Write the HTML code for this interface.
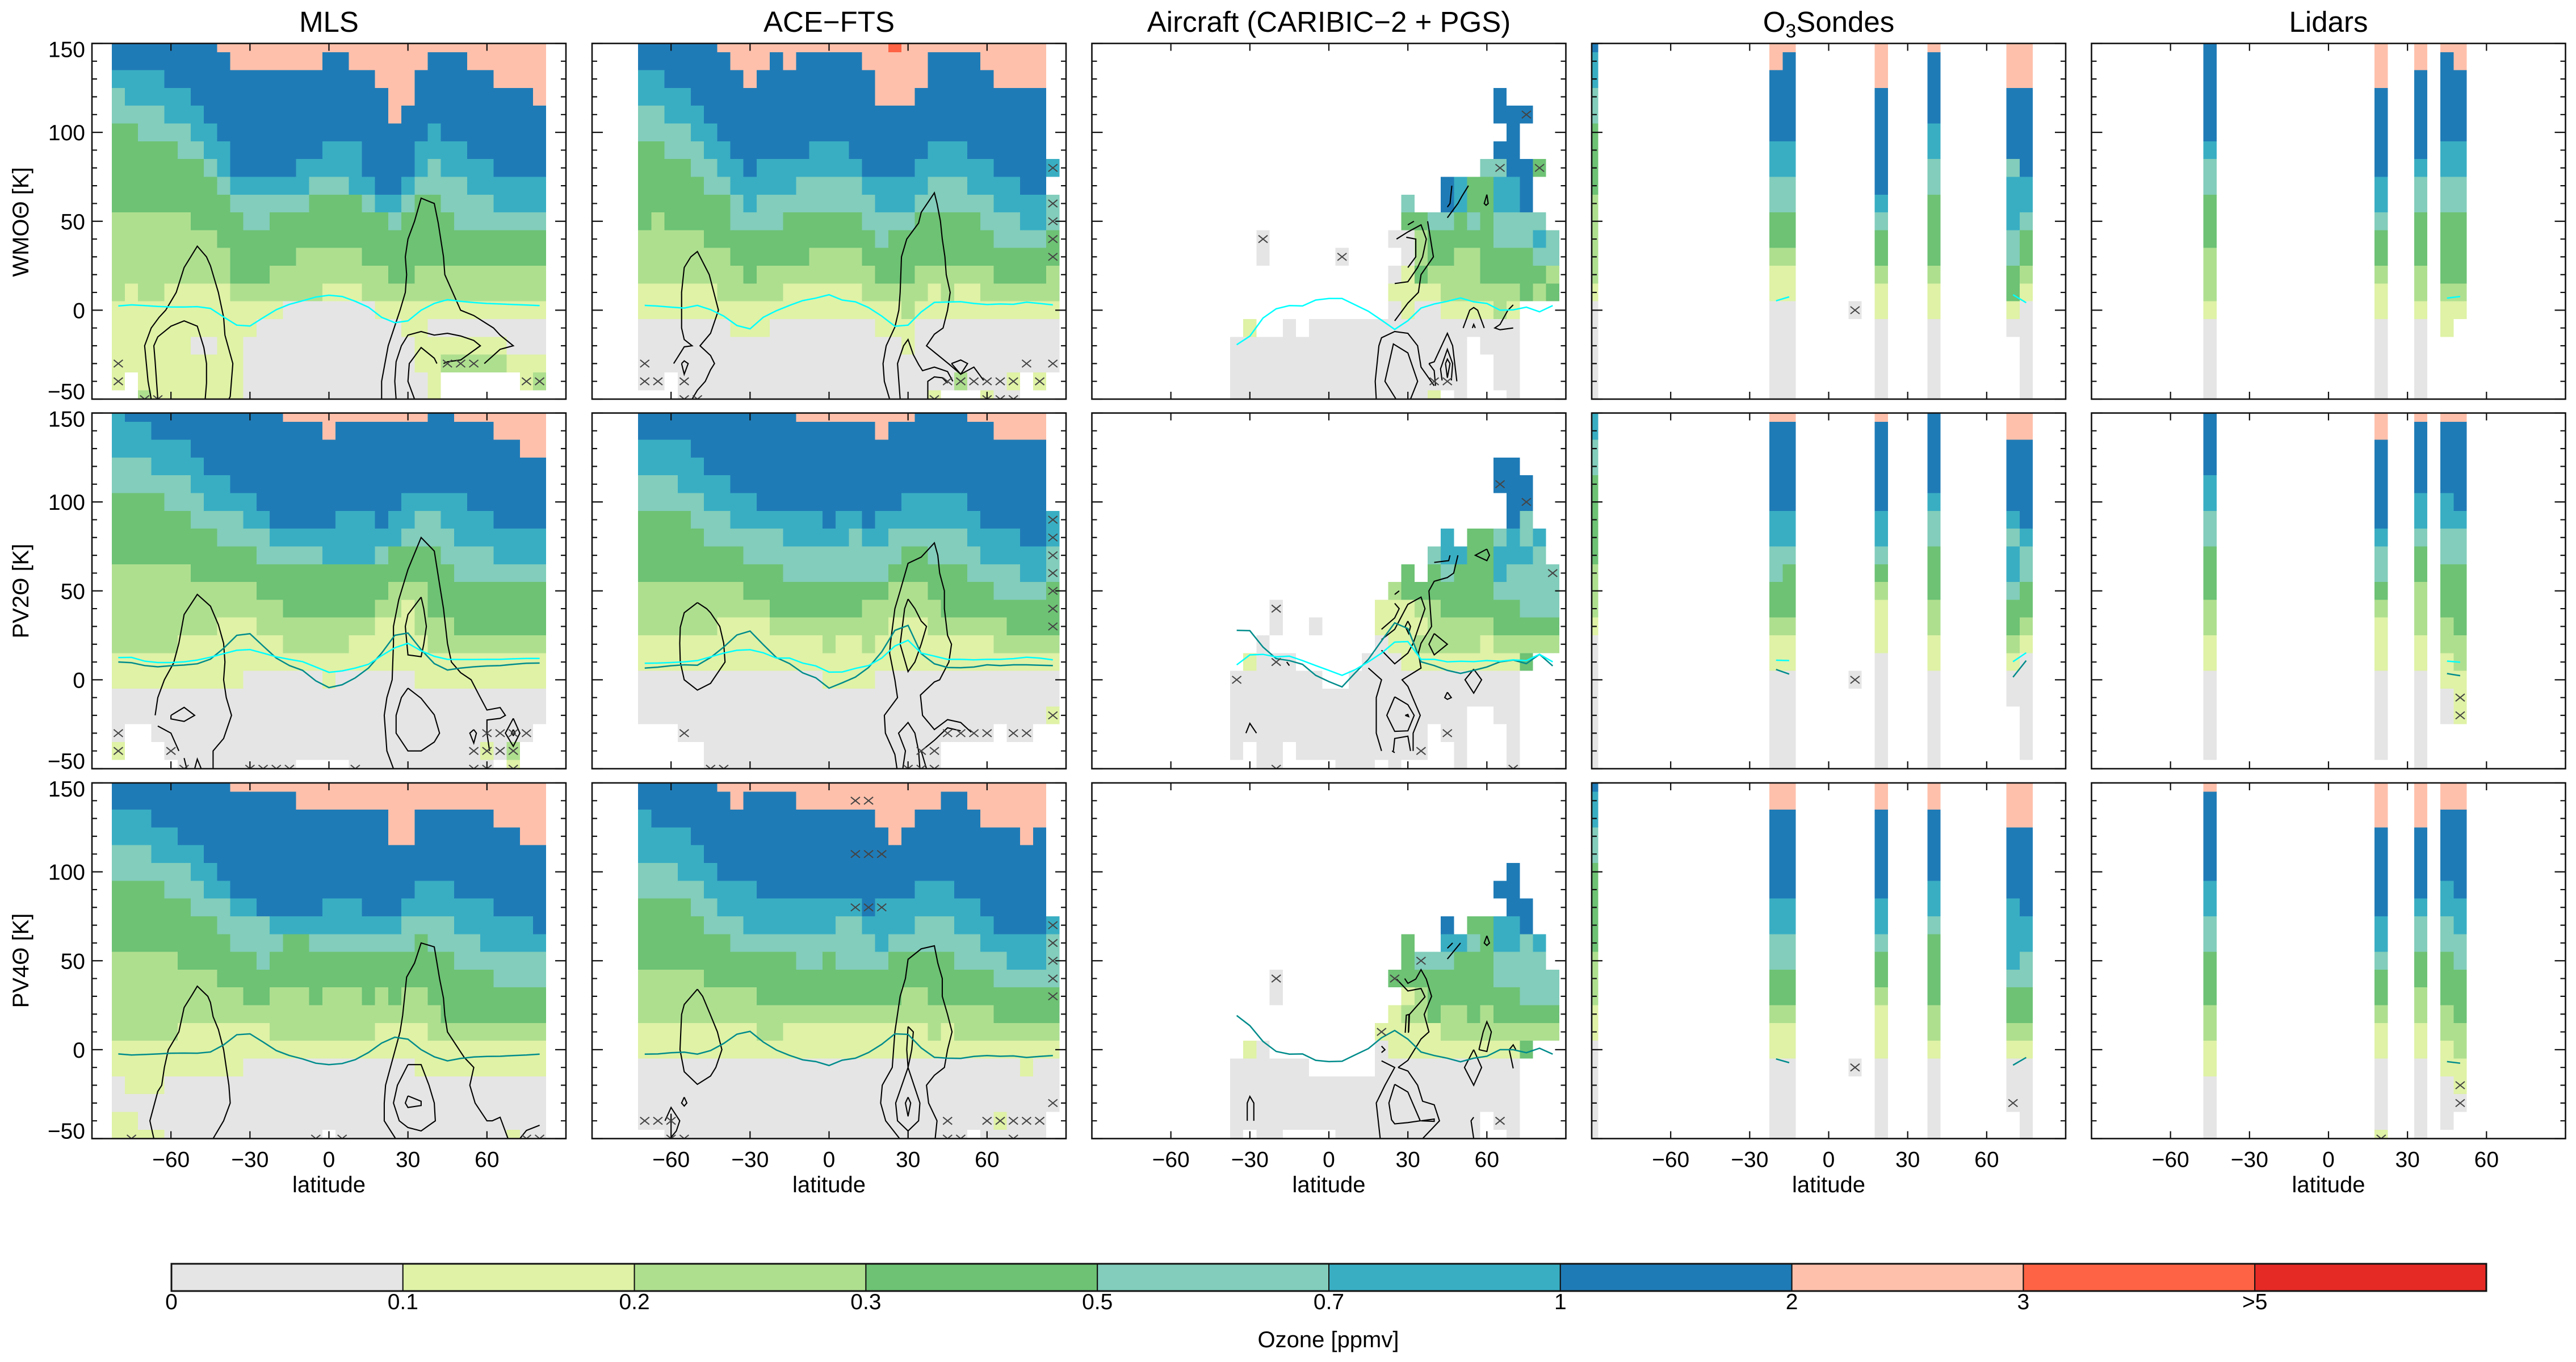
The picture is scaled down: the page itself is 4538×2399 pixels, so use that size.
<!DOCTYPE html>
<html lang="en">
<head>
<meta charset="utf-8">
<title>Ozone climatology comparison</title>
<style>
html,body{margin:0;padding:0;background:#fff;width:4538px;height:2399px;overflow:hidden}
svg{display:block}
text{font-family:"Liberation Sans",sans-serif;fill:#000}
</style>
</head>
<body>
<svg id="figure" xmlns="http://www.w3.org/2000/svg" width="4538" height="2399" viewBox="0 0 4538 2399">
<rect x="0" y="0" width="4538" height="2399" fill="#fff"/>
<g id="plots"></g>
<g id="colorbar"></g>
<g font-size="51" text-anchor="middle">
<text x="579.5" y="56">MLS</text>
<text x="1460.5" y="56">ACE−FTS</text>
<text x="2341" y="56">Aircraft (CARIBIC−2 + PGS)</text>
<text x="3221.5" y="56">O<tspan font-size="34" dy="10">3</tspan><tspan dy="-10">Sondes</tspan></text>
<text x="4102" y="56">Lidars</text>
</g>
<g font-size="40" text-anchor="middle">
<text transform="translate(50,391) rotate(-90)">WMOΘ [K]</text>
<text transform="translate(50,1041) rotate(-90)">PV2Θ [K]</text>
<text transform="translate(50,1692) rotate(-90)">PV4Θ [K]</text>
</g>
<g font-size="40" text-anchor="middle">
<text x="579.5" y="2100">latitude</text>
<text x="1460.5" y="2100">latitude</text>
<text x="2341" y="2100">latitude</text>
<text x="3221.5" y="2100">latitude</text>
<text x="4102" y="2100">latitude</text>
</g>
<text x="2340" y="2373" font-size="40" text-anchor="middle">Ozone [ppmv]</text>
</svg>
<script>
// Shared axis values
const levelColors = ["#e5e5e5","#dff2a6","#aedf8f","#6dc274","#82cdbb","#39aec3","#1f7bb6","#fec0ab","#fd6344","#e52a25"];
const colorbarLabels = ["0","0.1","0.2","0.3","0.5","0.7","1","2","3",">5"];
const xTicks = [-60,-30,0,30,60];
const yMajorTicks = [150,100,50,0,-50];
const yMinorTicks = [140,130,120,110,90,80,70,60,40,30,20,10,-10,-20,-30,-40];

// Heatmap levels, run-length pairs [level,count,...]; each row is one theta bin from 150 K down to -50 K; -1 = no data
const mlsWmoRows = [
[6,8,7,25],[6,9,7,7,6,2,7,6,6,3,7,6],[5,4,6,16,7,3,6,6,7,4],[4,1,5,5,6,15,7,2,6,9,7,1],[4,4,5,3,6,14,7,1,6,11],
[3,2,4,4,5,2,6,16,5,1,6,8],[3,5,4,2,5,2,6,7,5,3,6,4,5,4,6,6],[3,7,4,1,5,1,6,5,5,5,6,4,5,1,4,1,5,4,6,4],
[3,8,4,1,5,6,4,3,5,2,6,2,5,1,4,4,5,6],[3,9,4,6,3,4,4,1,5,2,4,1,3,2,4,4,5,4],[2,6,3,4,4,2,3,9,4,1,3,4,4,7],
[2,8,3,25],[2,9,3,5,2,5,3,14],[2,9,3,3,2,9,3,2,2,10],[2,1,1,1,2,2,1,5,2,7,1,3,2,14],[1,13,0,7,1,13],
[1,11,0,11,1,2,0,9],[1,6,0,2,1,2,0,13,1,7,0,3],[1,10,0,13,1,2,2,5,1,3],[1,1,-1,1,1,8,0,14,1,1,-1,6,1,1,2,1],[-1,2,2,1,1,7,0,14,1,1]];
const acePlainWmoRows = [
[6,6,7,13,8,1,7,11],[6,7,7,3,6,1,7,1,6,5,7,5,6,4,7,5],[5,2,6,6,7,1,6,9,7,4,6,5,7,4],[5,4,6,14,7,3,6,10],[4,2,5,3,6,26],
[4,4,5,2,6,25],[3,2,4,3,5,2,6,6,5,3,6,6,5,3,6,6],[3,4,4,2,5,2,6,1,5,8,6,4,5,6,6,4,5,1],[3,5,4,2,5,5,4,5,5,5,4,3,5,4,6,2],
[3,7,4,1,5,1,4,9,5,3,4,6,5,4,4,1],[3,1,2,1,3,5,4,4,3,6,4,4,3,5,4,3,5,2,4,1],[2,5,3,13,4,1,3,8,4,4,3,1],[2,7,3,6,2,4,3,15],
[2,8,3,1,2,9,3,3,2,6,3,4,2,1],[1,6,2,5,1,6,2,5,1,1,2,1,1,2,2,6],[1,20,2,1,1,11],[0,7,1,3,0,8,1,3,0,11],[0,20,1,1,0,11],[0,32],
[0,2,-1,1,0,21,2,1,0,3,1,1,-1,1,1,1],[-1,3,0,19,1,1,-1,3,1,1,0,2]];
const aircraftWmoRows = [
[],[],[],[-1,20,6,1],[-1,20,6,3],[-1,21,6,1],[-1,20,6,2],[-1,19,4,2,6,2,3,1],[-1,16,6,1,5,1,3,2,5,2,6,1],
[-1,13,4,1,-1,2,6,1,5,1,3,2,5,2,6,1],[-1,13,3,2,4,2,3,1,4,1,3,1,4,4],[-1,2,0,1,-1,9,0,2,2,1,3,5,4,3,5,1,4,1],
[-1,2,0,1,-1,5,0,1,-1,4,0,1,2,1,3,2,2,2,3,4,4,2],[-1,12,0,1,1,1,3,1,2,4,3,5,2,1],[-1,12,1,4,2,6,3,1,2,1,3,1],
[-1,12,0,1,1,1,0,2,1,4,2,1,1,1],[-1,1,1,1,-1,2,0,1,-1,1,0,16],[0,18,-1,1,0,3],[0,18,-1,2,0,2],[0,18,-1,2,0,2],[0,15,1,1,-1,1,0,1,-1,3,0,1]];
const mlsPv2Rows = [
[5,1,6,12,7,11,6,2,7,7],[5,3,6,13,7,1,6,12,7,4],[5,6,6,25,7,2],[4,3,5,4,6,26],[4,6,5,3,6,24],[3,4,4,3,5,4,6,11,5,5,6,6],
[3,6,4,4,5,2,6,5,5,3,6,1,5,2,4,2,5,4,6,4],[3,8,4,4,5,10,4,4,5,7],[3,11,4,5,5,4,4,1,3,4,4,4,5,4],[2,6,3,20,4,7],
[2,11,3,10,2,3,3,9],[2,13,3,7,2,2,1,1,2,1,3,9],[2,8,1,3,2,9,1,3,2,3,3,7],[2,5,1,8,2,5,1,6,2,9],[1,33],[1,10,0,6,1,1,0,6,1,10],
[0,33],[0,33],[0,1,-1,2,0,29],[1,1,-1,3,0,24,1,1,0,1,2,1],[-1,5,0,9,-1,4,0,11,-1,1,1,1]];
const acePv2Rows = [
[6,12,7,9,6,4,7,6],[6,18,7,1,6,8,7,4],[5,4,6,27],[5,5,6,26],[4,3,5,4,6,24],[4,5,5,4,6,11,5,5,6,6],
[3,4,4,3,5,7,6,1,5,2,6,1,5,8,6,5,5,1],[3,5,4,6,5,5,4,1,5,2,4,6,5,4,6,2,5,1],[3,8,4,12,3,2,4,4,5,5,4,1],[3,11,4,8,3,6,4,4,5,2,4,1],
[2,8,3,11,2,3,3,5,4,4,3,1],[2,10,3,7,2,6,3,9],[2,6,1,4,2,9,1,3,2,6,3,4],[1,14,2,1,1,2,2,1,1,9,2,5],[1,32],[0,14,1,4,0,14],
[0,32],[0,31,1,1],[-1,3,0,24,-1,1,0,2],[-1,5,0,18],[-1,5,0,18]];
const aircraftPv2Rows = [
[],[],[],[-1,20,6,2],[-1,20,6,3],[-1,21,6,2],[-1,21,6,1,4,1],[-1,16,5,1,-1,1,3,2,4,1,5,1,4,1,5,1],[-1,15,4,1,5,2,3,2,5,3,4,1],
[-1,13,3,1,-1,1,3,1,4,1,3,3,5,1,4,4],[-1,12,2,1,3,7,4,5],[-1,3,0,1,-1,7,1,3,2,2,3,6,4,3],[-1,3,0,1,-1,2,0,1,-1,4,1,4,2,5,3,5],
[-1,2,0,1,-1,8,0,1,1,2,2,5,1,1,2,5],[-1,1,1,1,0,3,-1,5,0,3,1,9,3,1],[0,7,-1,2,0,13],[0,22],[0,18,-1,2,0,2],
[0,15,-1,1,0,2,-1,3,0,1],[0,1,-1,1,0,2,-1,1,0,10,-1,2,0,1,-1,3,0,1],[-1,2,0,2,-1,4,0,3,-1,1,0,1,-1,4,0,1,-1,3,0,1]];
const mlsPv4Rows = [
[6,9,7,24],[6,14,7,19],[5,3,6,18,7,2,6,6,7,4],[5,5,6,16,7,2,6,8,7,2],[4,3,5,4,6,26],[4,6,5,2,6,25],[3,4,4,3,5,2,6,14,5,3,6,7],
[3,6,4,3,5,2,6,5,5,3,6,3,5,7,6,4],[3,8,4,4,5,10,4,4,5,6,6,1],[3,9,4,4,3,2,4,8,3,1,4,4,5,5],[2,5,3,6,4,1,3,14,4,7],[2,8,3,21,4,4],
[2,10,3,2,2,3,3,1,2,3,3,1,2,1,3,1,2,2,3,9],[2,25,3,8],[2,5,1,7,2,8,1,4,2,9],[1,33],[1,10,0,13,1,10],[0,1,1,3,0,29],[0,33],[1,2,0,31],[1,4,0,12,-1,1,0,13,1,1,0,2]];
const acePv4Rows = [
[6,6,7,25],[6,7,7,1,6,4,7,11,6,2,7,6],[5,1,6,17,7,3,6,5,7,5],[5,4,6,15,7,1,6,9,7,1,6,1],[5,5,6,26],[4,3,5,3,6,25],[4,5,5,4,6,12,5,3,6,7],
[3,4,4,2,5,11,6,1,5,8,6,5],[3,5,4,3,5,7,4,2,5,4,4,3,5,3,6,4,5,1],[3,7,4,11,5,1,4,7,5,5,4,1],[3,12,4,2,3,1,4,4,3,5,4,4,5,3,4,1],
[2,5,3,22,4,5],[2,9,3,11,2,2,3,10],[2,27,3,5],[1,9,2,2,1,11,2,1,1,1,2,8],[1,32],[0,29,1,1,0,2],[0,32],[0,32],[0,27,1,1,0,3],[-1,2,0,23,-1,1,0,5]];
const aircraftPv4Rows = [
[],[],[],[],[],[-1,21,6,1],[-1,20,6,2],[-1,21,6,2],[-1,16,6,1,-1,1,3,2,5,2,6,1],[-1,13,3,1,-1,2,5,2,4,1,3,1,5,2,4,1,5,1],
[-1,13,3,1,4,3,3,3,4,4],[-1,3,0,1,-1,8,3,8,4,5],[-1,3,0,1,-1,9,1,1,2,1,3,7,4,3],[-1,12,1,1,2,2,3,1,2,2,3,1,2,1,3,5],[-1,11,1,5,2,9],
[-1,1,1,1,0,1,-1,8,0,1,1,10,3,1],[0,6,-1,5,0,11],[0,22],[0,22],[0,19,-1,1,0,2],[0,1,-1,1,0,2,-1,4,0,11,-1,2,0,1]];

// Sparse station columns: [latitude, run-length levels from 150 K downward]
const sondeWmoCols = [[-90,[6,1,5,2,4,2,3,4,2,5,1,1,0,6]],[-20,[7,2,6,4,5,2,4,2,3,2,2,1,1,2,0,6]],[-15,[7,1,6,5,5,2,4,2,3,2,2,1,1,2,0,6]],[10,[-1,15,0,1]],
[20,[7,3,6,6,5,1,4,1,3,2,2,1,1,2,0,5]],[40,[7,1,6,4,5,2,4,2,3,4,2,1,1,2,0,5]],[70,[7,3,6,4,4,1,5,3,4,2,3,2,1,1,0,1]],[75,[7,3,6,5,5,2,4,1,3,2,2,1,1,1,0,6]]];
const lidarWmoCols = [[-45,[6,6,5,1,4,2,3,3,2,3,1,1,0,5]],[20,[7,3,6,5,5,2,4,1,3,2,2,1,1,2,0,5]],[35,[7,2,6,5,5,1,4,2,3,3,2,2,1,1,0,5]],
[45,[7,1,6,5,5,2,4,2,3,4,2,1,1,2]],[50,[7,2,6,4,5,2,4,2,3,4,2,1,1,1]]];
const sondePv2Cols = [[-90,[5,2,4,2,3,5,2,3,1,1,0,8]],[-20,[7,1,6,5,5,2,4,2,3,2,2,1,1,2,0,6]],[-15,[7,1,6,5,5,2,4,1,3,3,2,1,1,2,0,6]],[10,[-1,15,0,1]],
[20,[7,1,6,5,5,2,4,1,3,1,2,1,1,3,0,7]],[40,[6,5,5,1,4,2,3,3,2,2,1,2,0,6]],[70,[7,2,6,4,5,1,4,1,5,2,4,1,3,2,2,1,1,1,0,2]],[75,[7,2,6,5,5,1,4,2,3,2,2,1,1,1,0,6]]];
const lidarPv2Cols = [[-45,[6,4,5,2,4,2,3,3,2,2,1,2,0,5]],[20,[7,2,6,5,5,1,4,2,3,1,2,1,1,3,0,5]],[35,[7,1,6,4,5,2,4,1,3,2,2,3,1,2,0,6]],
[45,[7,1,6,4,5,2,4,2,3,3,2,2,1,2,0,2]],[50,[7,1,6,5,5,1,4,2,3,4,2,2,1,3]]];
const sondePv4Cols = [[-90,[6,1,5,2,4,2,3,5,2,3,1,2,0,6]],[-20,[7,2,6,5,5,2,4,2,3,2,2,1,1,2,0,5]],[-15,[7,2,6,5,5,2,4,2,3,2,2,1,1,2,0,5]],[10,[-1,16,0,1]],
[20,[7,2,6,5,5,2,4,1,3,2,2,1,1,3,0,5]],[40,[7,2,6,4,5,2,4,1,3,4,2,2,1,1,0,5]],[70,[7,3,6,4,5,4,4,1,3,2,2,1,1,1,0,3]],[75,[7,3,6,5,5,2,4,2,3,2,2,1,1,1,0,5]]];
const lidarPv4Cols = [[-45,[7,1,6,5,5,2,4,2,3,3,2,2,1,2,0,4]],[20,[7,3,6,5,5,2,4,1,3,2,2,1,1,2,0,4,1,1]],[35,[7,3,6,4,5,1,4,2,3,2,2,2,1,2,0,5]],
[45,[7,2,6,4,5,2,4,2,3,3,2,2,1,2,0,3]],[50,[7,2,6,5,5,2,4,2,3,3,2,2,1,2,0,1]]];

// Flagged cells: flat [lat,theta,...]
const mlsWmoCross = [-80,-30,-80,-40,-70,-50,-65,-50,45,-30,50,-30,55,-30,75,-40,80,-40];
const aceWmoCross = [-70,-30,75,-30,85,-30,-70,-40,-65,-40,-55,-40,45,-40,50,-40,55,-40,60,-40,65,-40,70,-40,80,-40,-55,-50,-50,-50,40,-50,60,-50,65,-50,70,-50,85,80,85,60,85,50,85,40,85,30];
const aircraftWmoCross = [-25,40,5,30,65,80,80,80,75,110,40,-40,45,-40];
const mlsPv2Cross = [-80,-30,60,-30,65,-30,70,-30,75,-30,-80,-40,-60,-40,55,-40,60,-40,65,-40,70,-40,-55,-50,-30,-50,-25,-50,-20,-50,-15,-50,10,-50,55,-50,60,-50,70,-50];
const acePv2Cross = [85,90,85,80,85,70,85,60,85,50,85,40,85,30,85,-20,-55,-30,45,-30,50,-30,55,-30,60,-30,70,-30,75,-30,35,-40,40,-40,-45,-50,-40,-50,30,-50,35,-50,40,-50];
const aircraftPv2Cross = [-20,40,-20,10,-35,0,65,110,75,100,85,60,45,-30,35,-40,-20,-50,70,-50];
const mlsPv4Cross = [-75,-50,-5,-50,5,-50,75,-50,80,-50];
const acePv4Cross = [10,140,15,140,10,110,15,110,20,110,10,80,15,80,20,80,85,70,85,60,85,50,85,40,85,30,85,-30,-70,-40,-65,-40,-60,-40,45,-40,60,-40,65,-40,70,-40,75,-40,80,-40,-60,-50,-55,-50,45,-50,50,-50,70,-50];
const aircraftPv4Cross = [-20,40,35,50,25,40,20,10,65,-40];
const sondeWmoCross = [10,0];
const lidarWmoCross = [];
const sondePv2Cross = [10,0];
const lidarPv2Cross = [50,-10,50,-20];
const sondePv4Cross = [10,-10,70,-30];
const lidarPv4Cross = [50,-20,50,-30,20,-50];

// Contour polylines: each flat [lat,theta,...]
const mlsWmoContours = [
[-67.5,-50,-68.7,-40,-70,-20,-67.5,-10,-64.5,-4,-62,0,-58,10,-55,24,-52.5,30,-50,36,-46.5,30,-45,25,-42,10,-40,-4,-39.5,-14,-36.5,-30,-37.5,-48.5,-38,-50],
[-65,-50,-66,-29,-66.5,-20,-65,-15,-60,-9,-55,-6,-50,-9,-47.5,-21,-46.5,-30,-46.5,-41,-47,-50],
[20,-50,20,-40,22.5,-20,27,0,29,10,29.5,20,29,30,30,40,32.5,50,35,63,40,60,41.5,49,43.5,30,44,20,47,10,50,0,55,-3,62.5,-10,65,-14,70,-20,65,-22,59,-30],
[25.5,-50,25,-40,25.5,-29,27.5,-20,30,-14,35,-12,40,-14,45,-13,50,-14.5,55,-17,57.5,-20,50,-28,45,-29,43.5,-30],
[32.5,-50,30,-40,30.5,-30,35,-21,40,-27,41,-30]];
const aceWmoContours = [
[-59,-30,-55,-20.6,-52,-20,-55,-16.5,-56,-10,-56,10,-55,24,-52.5,30,-50,33,-45.5,20,-42,0,-45,-13,-49,-20,-45,-25.5,-43.5,-30,-45,-33.5,-47,-40,-50,-45,-52,-50],
[-56,-30,-55,-28.5,-53.5,-30,-55,-36,-56,-30],
[23,-50,21,-40,20.5,-30,21.7,-20,25,-9.5,26.5,0,27,10,27.5,30,29.5,40,34,49,35,55,40,66,41,60,42.3,50,43,40,44,30,44.5,20,46,10,45,0,43.3,-10,40,-13.5,37,-20,45.7,-30.5,50,-36,55,-32,58.7,-39.5],
[27,-50,26,-30,28.3,-20,30,-16.5,32,-25,34,-30.5,35.5,-34,40,-32,45,-34.5,47,-40],
[37.5,-50,37.5,-40,40,-37.5,43,-38,45,-41],
[46.5,-30,50,-28,52.6,-30,50,-36,46.5,-30]];
const aircraftWmoContours = [
[32.3,50,30,48],[25.7,40,30,44,35,48,37,40,35.6,30,33.7,24,30,16,25,15],[30,24,33,30,33,40,29.4,41],
[37.5,50,39.7,30,35,20,34,10,30,4,25,-6],[45,52,49,60,50.5,64,53,70],[45,58,46,60,46.7,70],[60,65,60.5,60,59.7,59,59,60,60,65],
[51,-10,53.5,0,55,1.5,56.5,0,59,-10],[54.5,-10,55,-8,55.6,-10],[70,3,68,0,65,-8,63,-10,65,-11,70,-10],
[18,-50,17.6,-40,19,-20,20,-15.5,25,-12,30,-13,33.7,-20,35,-32,40,-42.5],[25.5,-50,21.3,-40,24.5,-19,30,-24,33.7,-40,31,-50],
[38,-30,40,-29,45,-13,47,-20,48.6,-40],[38,-30,40,-34,40.5,-42.5],[43,-39.5,42.4,-33,45,-22,47,-30,46.5,-39.5],[44.3,-30,45,-27.5,46,-30,45,-38,44.3,-30]];
const mlsPv2Contours = [
[-66,-20,-65,-10,-62.5,0,-59,9.4,-57,20.5,-55,36.7,-50,48,-45,41.4,-42,31,-40,20.5,-39.5,10,-40,0,-39,-10,-37,-20,-40,-33,-44,-40,-44,-50],
[-65,-26,-60,-30,-57,-40],[-55,-44,-54,-50],[-51,-50,-50,-44.6,-48.5,-50],[-60,-20,-55,-15.5,-51,-20,-55,-23.4,-60,-22,-60,-20],
[24.5,-50,22,-40,21,-20,22,-10,24,0,24.5,20.5,24.5,30,26.5,45,30,62,35,80,40,72.4,42,53.7,43.5,40,45,20.5,46.5,10,50,4,54,0,57,-8.6,60,-17,65,-15.6,67,-20,65,-21.7,60,-22.6,60,-30,61,-40],
[35,46.5,36,40,37,30,36,20,35,13,30,14,29,30,30,36.7,35,46.5],
[30,-4.7,35,-10.4,40,-19.7,42,-30,40,-35,35,-40,30,-40,25.5,-30,25.5,-20,27.5,-10,30,-4.7],
[55,-28,56,-30,55,-35.6,53.5,-30,55,-28],[70,-21.7,72.5,-30,70,-37.4,67,-30,70,-21.7],[70,-28,70.7,-30,70,-31.3,69.3,-30,70,-28]];
const acePv2Contours = [
[-50,43.4,-46.5,40,-45,37.7,-41.5,30,-40,20.5,-39.5,10,-45,-2,-50,-5.8,-55,0,-56.5,10,-56.7,20.5,-56.5,29.5,-55,37.7,-50,43.4],
[25.8,-50,25,-42,21.4,-30,21,-20,26,-10,25,0,23,15,23.3,20.5,25,40,27,50,30,65.5,35,69,40,77,41.3,70,42,60,43.8,50,43.8,40,45,25,46.5,20,45.5,10,42,0,40,-1.2,34.7,-8.6,35.5,-20,40,-28,45,-22.4,50,-24,54,-29.5],
[30,45.4,32.6,40,35,33,37,30,35,20,32.6,10,30,4.6,27,20,28.7,40,30,45.4],
[28,-50,29,-40,26.4,-30,30,-24,32.6,-30,34,-40,34.5,-50],[37,-50,35,-40,40,-34,45,-27,50,-28.7]];
const aircraftPv2Contours = [
[40,66,45.5,67,46,70],[49,70,47.4,60,45,57.5,40,55.4,38,50,39,30,35,20.5,34,15,35,6.6,27.8,0,30,-3.7,34.7,-20,32,-30,32,-40],[26.7,50,25,48],
[25,43,26.7,40,25,34.8,20,28.4],[20,22.6,25,28.4,30,42.4,35,46.5,36.5,40,32,20.5,30,15,25,9,20,16.6],[30,33,31,30,30.3,26,29,30,30,33],
[40,26,45,20,40,14,38,20,40,26],[60,73.5,61,70,60,67,55.6,70,60,73.5],[55,6,58,0,55,-7.5,51.7,0,55,6],[45,-7,46.5,-10,45,-11,44,-10,45,-7],
[15,6.6,20,0,18,-10,18,-30,20,-40],[25,-9.6,30,-14,32.4,-20,30,-28.7,25,-29,22,-20,25,-9.6],[29,-20,30,-19.5,30.3,-20.7,29,-20],
[24.5,-40,25,-33,30,-31.7,31,-40],[-31.5,-30,-30,-24.5,-27.5,-30],[-16,10,-15,8],[24,-40,25,-41]];
const mlsPv4Contours = [
[-66.5,-50,-68,-40,-65,-23.5,-63.5,-20,-62.5,-10,-61,0,-57,10,-55,23.7,-52,30.8,-50,35.7,-46,30,-45,26.5,-44,18.6,-42,11.4,-40,0,-39,-10,-38,-20,-37.5,-30,-40,-40,-44,-50],
[25.3,-50,21,-40,21,-30,21.5,-20,27,10,28,19.4,29.5,40.8,32.5,48.7,35,60,40,57.8,42,40,43.5,28.9,44,19.4,45,10,51.4,-4.4,55,-10,53.5,-20,55.5,-30,60,-40,62,-40,65,-38,68,-50],
[30,-8.4,35,-8.4,38,-20,40,-30,40.4,-40,35,-45.7,30,-43.8,26.7,-40,24.5,-30,26,-20,30,-8.4],
[30,-26,35,-29,35,-31.4,30,-32.5,29,-30,30,-26],[72.5,-50,75,-45.4,80,-42.5]];
const acePv4Contours = [
[-50,34,-48,30,-45,19.4,-42.4,10,-40.7,0,-43,-10,-45,-14.8,-50,-19.5,-55,-12.4,-56.6,0,-56,19.8,-55,25.4,-50,34],
[-55,-26.7,-54,-30,-55,-31.7,-56,-30,-55,-26.7],[-62.3,-40,-60,-32.5,-56.7,-40,-58,-45.7,-60.4,-50],[-60,-36,-60,-50],
[26.8,-50,21.5,-40,19.6,-30,20.2,-20,24,-10,25,10,27,30,29,40,30,50.8,35,56.7,40,58.4,41.3,48.7,43,40,43,30,45,19.8,46.7,10,45,0,43.8,-10,40,-14.4,37,-20,37.8,-30,41,-40,40.3,-50],
[30,13,32,10,31.4,0,30,-10,34.5,-30,34,-40,30,-45.7,26,-40,25.3,-30,30,-10,29.5,0,30,13],
[30,-26.7,31,-30,30,-37.5,29,-30,30,-26.7],[30,-45.7,30,-50]];
const aircraftPv4Contours = [
[45,57,47,60],[45,51,50,60],[60,64,61,60,60,58.6,59,60,60,64],[25.7,39.7,30,33,35,34.4,36.5,29.7,30.6,19.8,30.3,10],
[28.8,40,30,37.3,33,39.7,35,45,37,39.7,39,30,36.2,19.8,38,10,35,6,30,-6,26.3,-10],[29,9.5,29.4,19.4,30.4,19.8,30.2,9.5],
[20,-6.3,25,-10,21.3,-20,18,-30,19.5,-50],[26.3,-10,30,-12,33.7,-20,35.6,-29,40,-31,42,-40,35.6,-50],
[25,-19.5,30,-23.8,34.7,-40,30,-41,25,-41.7,23.8,-39.4,22.8,-30,25,-19.5],[35,-40,40,-39,40,-40.3,35,-40],[20,2,21.3,0,20,-1.6],
[55,0,58,-10,55,-20,51.5,-10,55,0],[57,0,58.6,10,60,15.7,61.7,10,60,-1,57,0],[70,-10.5,68.5,0,70,2.7,71,0],[55,-38,54,-40,55,-50],
[-31,-40,-31,-30,-30,-26.3,-28.5,-30,-28.5,-40]];

// Tropopause series, theta at 5-degree latitude steps
const mlsWmoCyan = [2.4,3,2.6,2.1,1.8,1.8,2,1,-3.8,-8.4,-8.9,-4.2,0.3,3.3,5.3,7.4,8.4,7.7,5,1.7,-4,-7,-6,0,3.8,5.9,5,4.3,3.8,3.5,3.2,2.9,2.6];
const aceWmoCyan = [2.7,2.3,1.7,1.2,2.7,0.3,-3.3,-8.6,-10.5,-4,-0.3,2.7,5.4,6.8,8.7,5.7,4.7,1.5,-3.3,-9,-8.4,-1,4.4,4.6,4.8,3.8,3.2,3.5,3.3,4.5,3.8,3];
const aircraftWmoCyan = [-19.4,-14.6,-4.4,0.8,2.6,2.4,5.7,6.6,6.6,3,-0.6,-5.6,-10.8,-5.9,1.2,3.5,5,6.9,4.7,3.8,0,0.2,1.7,-0.9,2.6];
const mlsPv2Cyan = [12.5,12.6,10.5,9.7,9.7,10.1,11.1,12.7,14.7,16.6,17,15,12.9,11.5,10.2,7.2,4.2,5,6.6,8.7,13.6,18,20.5,16.3,13.2,11.5,11.4,11.4,11.5,11.5,11.8,12,12];
const mlsPv2Teal = [10,9.6,8,7.3,7.9,8.3,9,11.6,17.7,25,25.9,19,12.2,8,5.3,-0.6,-4.4,-2.8,1.1,6.6,15,25,26.3,17,9.1,5.5,6.6,7.3,7.8,8,8.7,9.3,9.4];
const acePv2Cyan = [9.3,9.4,9.7,10.1,10.8,12.9,15,16.6,16.9,15.2,12.2,12.2,9.4,7.8,4.3,4.4,6.4,8,12.2,19,22.2,15,13.3,11.5,11.5,11.2,11.5,11.5,11.9,12.7,12.2,11.2];
const acePv2Teal = [6.6,7.1,7.9,8.4,8.2,12.5,18.4,25.2,27.4,19.8,12.5,9.1,3.9,1.1,-4.7,-1.7,1.5,6.9,15.7,27.8,30.6,14.7,9,6.9,6.8,7.2,8.4,8,8.4,8.4,8.2,8];
const aircraftPv2Cyan = [8.4,14,14.3,12.9,13.3,10.8,8,5.3,2.5,5.7,10.1,15,21.2,21.5,11.5,11.5,10.1,10.4,10.2,10.8,10.4,11.2,10.8,14.3,10.1];
const aircraftPv2Teal = [27.8,27.6,18.4,11.9,10.8,8.7,2.5,-1,-4,3.9,11.5,21.9,32,28.8,10.1,8,5.3,3.6,5.3,7.2,10.1,11.1,9.1,14.3,7.8];
const mlsPv4Teal = [-2.4,-3,-2.7,-2.4,-2,-1.9,-2,-1.3,2.7,8.4,8.9,4.3,-0.5,-3.3,-5.2,-7.6,-8.4,-7.8,-5.6,-1.6,3.7,7,5.9,0,-4,-6.3,-4.9,-4.1,-3.8,-3.7,-3.3,-3,-2.5];
const acePv4Teal = [-2.5,-2.4,-1.7,-1.4,-2.5,-0.5,3.5,8.7,10.3,4.3,-0.2,-3.2,-5.7,-6.7,-8.9,-5.9,-4.8,-1.6,3,8.9,8.6,1,-4.3,-4.8,-4.9,-3.8,-3.3,-3.7,-3.5,-4.4,-3.8,-3.3];
const aircraftPv4Teal = [19.2,13.5,4.6,-1,-2.5,-2.4,-6,-6.7,-6.5,-2.9,0.6,6.7,10.8,5.9,-1.3,-3.3,-4.8,-6.8,-4.8,-3.7,0,0,-1.7,0.8,-2.5];
const sondeWmoCyanA = [5.3,7.5];
const sondeWmoCyanB = [8.7,4.2];
const lidarWmoCyan = [6.8,7.7];
const sondePv2CyanA = [11,10.8];
const sondePv2CyanB = [10.2,15.2];
const sondePv2TealA = [5.8,3.2];
const sondePv2TealB = [1.5,10.8];
const lidarPv2Cyan = [10.5,9.9];
const lidarPv2Teal = [3.5,2.3];
const sondePv4TealA = [-5.2,-7.3];
const sondePv4TealB = [-8.7,-4.4];
const lidarPv4Teal = [-6.7,-7.6];

const panels = [
{col:0,row:0,start:-80,rows:mlsWmoRows,cross:mlsWmoCross,contours:mlsWmoContours,cyan:[[-80,mlsWmoCyan]],teal:[]},
{col:1,row:0,start:-70,rows:acePlainWmoRows,cross:aceWmoCross,contours:aceWmoContours,cyan:[[-70,aceWmoCyan]],teal:[]},
{col:2,row:0,start:-35,rows:aircraftWmoRows,cross:aircraftWmoCross,contours:aircraftWmoContours,cyan:[[-35,aircraftWmoCyan]],teal:[]},
{col:3,row:0,cols:sondeWmoCols,cross:sondeWmoCross,contours:[],cyan:[[-20,sondeWmoCyanA],[70,sondeWmoCyanB]],teal:[]},
{col:4,row:0,cols:lidarWmoCols,cross:lidarWmoCross,contours:[],cyan:[[45,lidarWmoCyan]],teal:[]},
{col:0,row:1,start:-80,rows:mlsPv2Rows,cross:mlsPv2Cross,contours:mlsPv2Contours,cyan:[[-80,mlsPv2Cyan]],teal:[[-80,mlsPv2Teal]]},
{col:1,row:1,start:-70,rows:acePv2Rows,cross:acePv2Cross,contours:acePv2Contours,cyan:[[-70,acePv2Cyan]],teal:[[-70,acePv2Teal]]},
{col:2,row:1,start:-35,rows:aircraftPv2Rows,cross:aircraftPv2Cross,contours:aircraftPv2Contours,cyan:[[-35,aircraftPv2Cyan]],teal:[[-35,aircraftPv2Teal]]},
{col:3,row:1,cols:sondePv2Cols,cross:sondePv2Cross,contours:[],cyan:[[-20,sondePv2CyanA],[70,sondePv2CyanB]],teal:[[-20,sondePv2TealA],[70,sondePv2TealB]]},
{col:4,row:1,cols:lidarPv2Cols,cross:lidarPv2Cross,contours:[],cyan:[[45,lidarPv2Cyan]],teal:[[45,lidarPv2Teal]]},
{col:0,row:2,start:-80,rows:mlsPv4Rows,cross:mlsPv4Cross,contours:mlsPv4Contours,cyan:[],teal:[[-80,mlsPv4Teal]]},
{col:1,row:2,start:-70,rows:acePv4Rows,cross:acePv4Cross,contours:acePv4Contours,cyan:[],teal:[[-70,acePv4Teal]]},
{col:2,row:2,start:-35,rows:aircraftPv4Rows,cross:aircraftPv4Cross,contours:aircraftPv4Contours,cyan:[],teal:[[-35,aircraftPv4Teal]]},
{col:3,row:2,cols:sondePv4Cols,cross:sondePv4Cross,contours:[],cyan:[],teal:[[-20,sondePv4TealA],[70,sondePv4TealB]]},
{col:4,row:2,cols:lidarPv4Cols,cross:lidarPv4Cross,contours:[],cyan:[],teal:[[45,lidarPv4Teal]]}
];

const NS = "http://www.w3.org/2000/svg";
const panelLeft = [162,1043,1923.5,2804,3684.5];
const panelTop = [76.5,727.5,1379];
const panelW = 835, panelH = 626.5;
const plots = document.getElementById("plots");

function make(tag, attrs, parent){
  const n = document.createElementNS(NS, tag);
  for (const k in attrs) n.setAttribute(k, attrs[k]);
  parent.appendChild(n);
  return n;
}

function drawPanel(p, idx){
  const left = panelLeft[p.col], top = panelTop[p.row];
  const xScale = lat => left + (lat + 90) * panelW / 180;
  const yScale = th => top + (150 - th) * panelH / 200;

  const g = make("g", {}, plots);
  
  

  const clip = make("clipPath", {id:"clip" + idx}, g);
  make("rect", {x:left, y:top, width:panelW, height:panelH}, clip);

  const plot = make("g", {"clip-path":"url(#clip" + idx + ")"}, g);
  
  

  const cellGroup = make("g", {"shape-rendering":"crispEdges"}, plot);
  
  

  function cell(latFrom, latTo, thTop, thBottom, level){
    if (level < 0) return;
    const x0 = xScale(latFrom), x1 = xScale(latTo), y0 = yScale(thTop), y1 = yScale(thBottom);
    const r = make("rect", {x:x0, y:y0, width:x1 - x0, height:y1 - y0, fill:levelColors[level]}, cellGroup);
    
    
  }

  if (p.rows){
    p.rows.forEach((runs, ri) => {
      const th = 150 - 10 * ri;
      let lat = p.start;
      for (let i = 0; i < runs.length; i += 2){
        const n = runs[i + 1];
        cell(lat - 2.5, lat - 2.5 + 5 * n, th + 5, th - 5, runs[i]);
        lat += 5 * n;
      }
    });
  } else {
    p.cols.forEach(entry => {
      const lat = entry[0], runs = entry[1];
      let th = 150;
      for (let i = 0; i < runs.length; i += 2){
        const n = runs[i + 1];
        cell(lat - 2.5, lat + 2.5, th + 5, th + 5 - 10 * n, runs[i]);
        th -= 10 * n;
      }
    });
  }

  p.contours.forEach(line => {
    const pts = [];
    for (let i = 0; i < line.length; i += 2) pts.push(xScale(line[i]) + "," + yScale(line[i + 1]));
    const c = make("polyline", {points:pts.join(" "), fill:"none", stroke:"#000", "stroke-width":2.1, "stroke-linejoin":"miter"}, plot);
    
    
  });

  p.teal.forEach(s => {
    const pts = s[1].map((v, i) => xScale(s[0] + 5 * i) + "," + yScale(v));
    const l = make("polyline", {points:pts.join(" "), fill:"none", stroke:"#008b8b", "stroke-width":2.5}, plot);
    
    
  });

  p.cyan.forEach(s => {
    const pts = s[1].map((v, i) => xScale(s[0] + 5 * i) + "," + yScale(v));
    const l = make("polyline", {points:pts.join(" "), fill:"none", stroke:"#00ffff", "stroke-width":2.5}, plot);
    
    
  });

  for (let i = 0; i < p.cross.length; i += 2){
    const cx = xScale(p.cross[i]), cy = yScale(p.cross[i + 1]);
    const m = make("path", {d:"M" + (cx - 8) + " " + (cy - 6.5) + "L" + (cx + 8) + " " + (cy + 6.5) + "M" + (cx - 8) + " " + (cy + 6.5) + "L" + (cx + 8) + " " + (cy - 6.5), fill:"none", stroke:"#444", "stroke-width":2}, plot);
    
    
  }

  const axes = make("g", {stroke:"#111", "stroke-width":2.2, fill:"none"}, g);
  
  

  const frame = make("rect", {x:left, y:top, width:panelW, height:panelH, "stroke-width":2.6}, axes);
  
  

  xTicks.forEach(t => {
    const x = xScale(t);
    const a = make("path", {d:"M" + x + " " + top + "v13M" + x + " " + (top + panelH) + "v-13"}, axes);
    
    
    if (p.row === 2){
      const lb = make("text", {x:x, y:top + panelH + 50, "font-size":39, "text-anchor":"middle", stroke:"none"}, g);
      
      
      lb.textContent = String(t).replace("-", "\u2212");
    }
  });

  yMajorTicks.forEach(t => {
    const y = yScale(t);
    const a = make("path", {d:"M" + left + " " + y + "h19M" + (left + panelW) + " " + y + "h-19"}, axes);
    
    
    if (p.col === 0){
      const off = t === 150 ? 24 : (t === -50 ? 0 : 14);
      const lb = make("text", {x:left - 12, y:y + off, "font-size":39, "text-anchor":"end", stroke:"none"}, g);
      
      
      lb.textContent = String(t).replace("-", "\u2212");
    }
  });

  yMinorTicks.forEach(t => {
    const y = yScale(t);
    const a = make("path", {d:"M" + left + " " + y + "h9M" + (left + panelW) + " " + y + "h-9"}, axes);
    
    
  });
}

panels.forEach(drawPanel);

(function drawColorbar(){
  const bar = document.getElementById("colorbar");
  const barLeft = 302, barTop = 2226, barH = 48, segW = 407.8;
  levelColors.forEach((c, i) => {
    const r = make("rect", {x:barLeft + i * segW, y:barTop, width:segW, height:barH, fill:c, stroke:"#111", "stroke-width":2}, bar);
    
    
  });
  const edge = make("rect", {x:barLeft, y:barTop, width:segW * levelColors.length, height:barH, fill:"none", stroke:"#111", "stroke-width":3}, bar);
  
  
  colorbarLabels.forEach((t, i) => {
    const lb = make("text", {x:barLeft + i * segW, y:2306, "font-size":39, "text-anchor":"middle"}, bar);
    
    
    lb.textContent = t;
  });
})();
</script>
</body>
</html>
